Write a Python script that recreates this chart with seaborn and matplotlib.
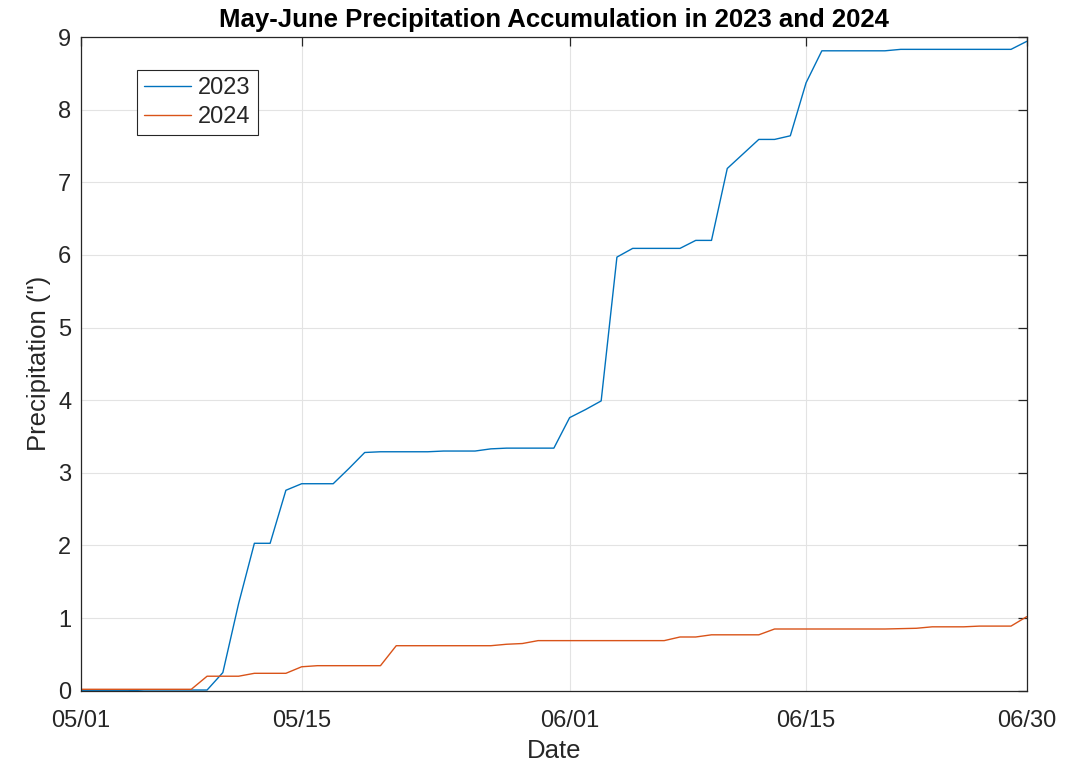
import matplotlib
matplotlib.use("Agg")
import matplotlib.pyplot as plt
import seaborn as sns
import pandas as pd
import numpy as np

# Cumulative daily precipitation (inches), day 0 = May 1 ... day 60 = June 30
precip_2023 = [0.00, 0.00, 0.00, 0.00, 0.01, 0.01, 0.01, 0.01, 0.01, 0.25,
               1.20, 2.03, 2.03, 2.76, 2.85, 2.85, 2.85, 3.06, 3.28, 3.29,
               3.29, 3.29, 3.29, 3.30, 3.30, 3.30, 3.33, 3.34, 3.34, 3.34,
               3.34, 3.76, 3.87, 3.99, 5.97, 6.09, 6.09, 6.09, 6.09, 6.20,
               6.20, 7.19, 7.39, 7.59, 7.59, 7.64, 8.37, 8.81, 8.81, 8.81,
               8.81, 8.81, 8.83, 8.83, 8.83, 8.83, 8.83, 8.83, 8.83, 8.83,
               8.94]
precip_2024 = [0.02, 0.02, 0.02, 0.02, 0.02, 0.02, 0.02, 0.02, 0.20, 0.20,
               0.20, 0.24, 0.24, 0.24, 0.33, 0.345, 0.345, 0.345, 0.345, 0.345,
               0.62, 0.62, 0.62, 0.62, 0.62, 0.62, 0.62, 0.64, 0.65, 0.69,
               0.69, 0.69, 0.69, 0.69, 0.69, 0.69, 0.69, 0.69, 0.74, 0.74,
               0.77, 0.77, 0.77, 0.77, 0.85, 0.85, 0.85, 0.85, 0.85, 0.85,
               0.85, 0.85, 0.855, 0.86, 0.88, 0.88, 0.88, 0.89, 0.89, 0.89,
               1.02]
years = ["2023", "2024"]
tick_days = [0, 14, 31, 46, 60]
tick_labels = ["05/01", "05/15", "06/01", "06/15", "06/30"]

days = np.arange(len(precip_2023))
df = pd.DataFrame({
    "day": np.concatenate([days, days]),
    "precip": precip_2023 + precip_2024,
    "year": [years[0]] * len(days) + [years[1]] * len(days),
})

sns.set_style("white")
plt.rcParams["font.family"] = ["Liberation Sans", "DejaVu Sans"]

fig = plt.figure(figsize=(10.84, 7.63), dpi=100)
ax = fig.add_axes([0.0747, 0.0947, 0.8725, 0.8568])

palette = {"2023": "#0072BD", "2024": "#D95319"}
sns.lineplot(data=df, x="day", y="precip", hue="year", palette=palette,
             linewidth=1.0, ax=ax, legend=False)

ax.set_xlim(0, 60)
ax.set_ylim(0, 9)
ax.set_xticks(tick_days)
ax.set_xticklabels(tick_labels)
ax.set_yticks(range(0, 10))

ax.grid(True, color="#e3e3e3", linewidth=0.8)
ax.set_axisbelow(True)
for s in ax.spines.values():
    s.set_color("#262626")
    s.set_linewidth(0.9)

ax.tick_params(axis="both", direction="in", length=6.5, width=0.9,
               colors="#262626", labelsize=17, top=True, right=True,
               labelcolor="#262626")
ax.tick_params(axis="x", pad=14)
ax.tick_params(axis="y", pad=7)

ax.set_xlabel("Date", fontsize=18.5, color="#262626", labelpad=5)
ax.set_ylabel('Precipitation (")', fontsize=18.5, color="#262626", labelpad=5)
ax.set_title("May-June Precipitation Accumulation in 2023 and 2024",
             fontsize=18.5, fontweight="bold", color="black", pad=7)

handles = ax.get_lines()[:2]
leg = ax.legend(handles, years, loc="upper left", bbox_to_anchor=(0.059, 0.95),
                fontsize=17, frameon=True, fancybox=False, framealpha=1,
                edgecolor="#262626", handlelength=2.0, handletextpad=0.3,
                borderpad=0.3, labelspacing=0.3, borderaxespad=0)
leg.get_frame().set_linewidth(0.8)

fig.savefig("out.png", dpi=100)
